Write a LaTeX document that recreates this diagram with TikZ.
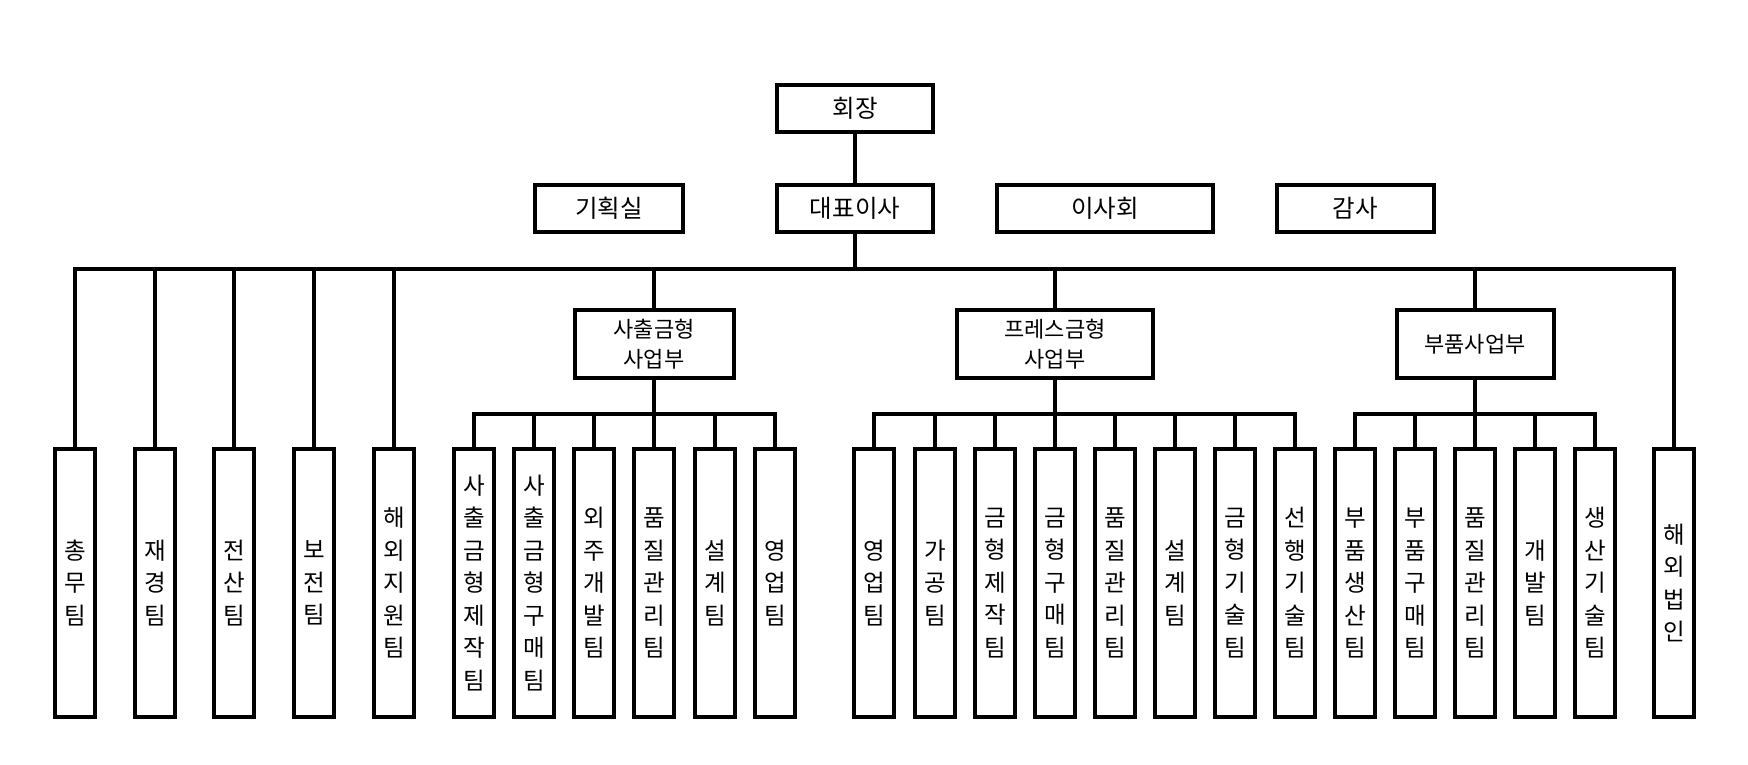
\documentclass[tikz,border=0pt]{standalone}
\usepackage{fontspec}
\setmainfont{Noto Sans CJK KR}
\begin{document}
\begin{tikzpicture}[x=1pt,y=-1pt,
  box/.style={draw,line width=4pt,inner sep=0pt,align=center},
  topbox/.style={box,minimum height=47pt,font=\fontsize{24.5}{28}\selectfont},
  midbox/.style={box,minimum height=68pt,font=\fontsize{22}{29.5}\selectfont},
  leaf/.style={box,minimum width=40pt,minimum height=268pt,font=\fontsize{23.5}{32.5}\selectfont},
  link/.style={line width=3.5pt}]
\useasboundingbox[fill=white] (0,0) rectangle (1748,764);
% top level
\node[topbox,minimum width=156pt] (chair) at (855,108) {회장};
\node[topbox,minimum width=148pt] (plan) at (609,208.5) {기획실};
\node[topbox,minimum width=156pt] (ceo) at (855,208.5) {대표이사};
\node[topbox,minimum width=216pt] (board) at (1105,208.5) {이사회};
\node[topbox,minimum width=157pt] (audit) at (1355,208.5) {감사};
% divisions
\node[midbox,minimum width=159pt] (m1) at (654,344) {사출금형\\사업부};
\node[midbox,minimum width=196pt] (m2) at (1055,344) {프레스금형\\사업부};
\node[midbox,minimum width=157pt] (m3) at (1475,344) {부품사업부};
% leaves
\node[leaf] (a1) at (75,583) {총\\무\\팀};
\node[leaf] (a2) at (155,583) {재\\경\\팀};
\node[leaf] (a3) at (234,583) {전\\산\\팀};
\node[leaf] (a4) at (314,583) {보\\전\\팀};
\node[leaf] (a5) at (394,583) {해\\외\\지\\원\\팀};
\node[leaf] (b1) at (474,583) {사\\출\\금\\형\\제\\작\\팀};
\node[leaf] (b2) at (534,583) {사\\출\\금\\형\\구\\매\\팀};
\node[leaf] (b3) at (594,583) {외\\주\\개\\발\\팀};
\node[leaf] (b4) at (654,583) {품\\질\\관\\리\\팀};
\node[leaf] (b5) at (715,583) {설\\계\\팀};
\node[leaf] (b6) at (775,583) {영\\업\\팀};
\node[leaf] (c1) at (874,583) {영\\업\\팀};
\node[leaf] (c2) at (935,583) {가\\공\\팀};
\node[leaf] (c3) at (995,583) {금\\형\\제\\작\\팀};
\node[leaf] (c4) at (1055,583) {금\\형\\구\\매\\팀};
\node[leaf] (c5) at (1115,583) {품\\질\\관\\리\\팀};
\node[leaf] (c6) at (1175,583) {설\\계\\팀};
\node[leaf] (c7) at (1235,583) {금\\형\\기\\술\\팀};
\node[leaf] (c8) at (1295,583) {선\\행\\기\\술\\팀};
\node[leaf] (d1) at (1355,583) {부\\품\\생\\산\\팀};
\node[leaf] (d2) at (1415,583) {부\\품\\구\\매\\팀};
\node[leaf] (d3) at (1475,583) {품\\질\\관\\리\\팀};
\node[leaf] (d4) at (1535,583) {개\\발\\팀};
\node[leaf] (d5) at (1595,583) {생\\산\\기\\술\\팀};
\node[leaf] (e) at (1674,583) {해\\외\\법\\인};
% connectors
\coordinate (bus) at (855,269);
\draw[link] (chair.south) -- (ceo.north);
\draw[link] (ceo.south) -- (bus);
\draw[link] (a1.north) |- (bus) -| (e.north);
\foreach \n in {a2,a3,a4,a5,m1,m2,m3}
  \draw[link] (\n.north) -- (\n.north |- bus);
% division sub-buses
\coordinate (s1) at (654,414);
\coordinate (s2) at (1055,414);
\coordinate (s3) at (1475,414);
\draw[link] (m1.south) -- (s1);
\draw[link] (m2.south) -- (s2);
\draw[link] (m3.south) -- (s3);
\draw[link] (b1.north) |- (s1) -| (b6.north);
\draw[link] (c1.north) |- (s2) -| (c8.north);
\draw[link] (d1.north) |- (s3) -| (d5.north);
\foreach \n in {b2,b3,b4,b5}
  \draw[link] (\n.north) -- (\n.north |- s1);
\foreach \n in {c2,c3,c4,c5,c6,c7}
  \draw[link] (\n.north) -- (\n.north |- s2);
\foreach \n in {d2,d3,d4}
  \draw[link] (\n.north) -- (\n.north |- s3);
\end{tikzpicture}
\end{document}
